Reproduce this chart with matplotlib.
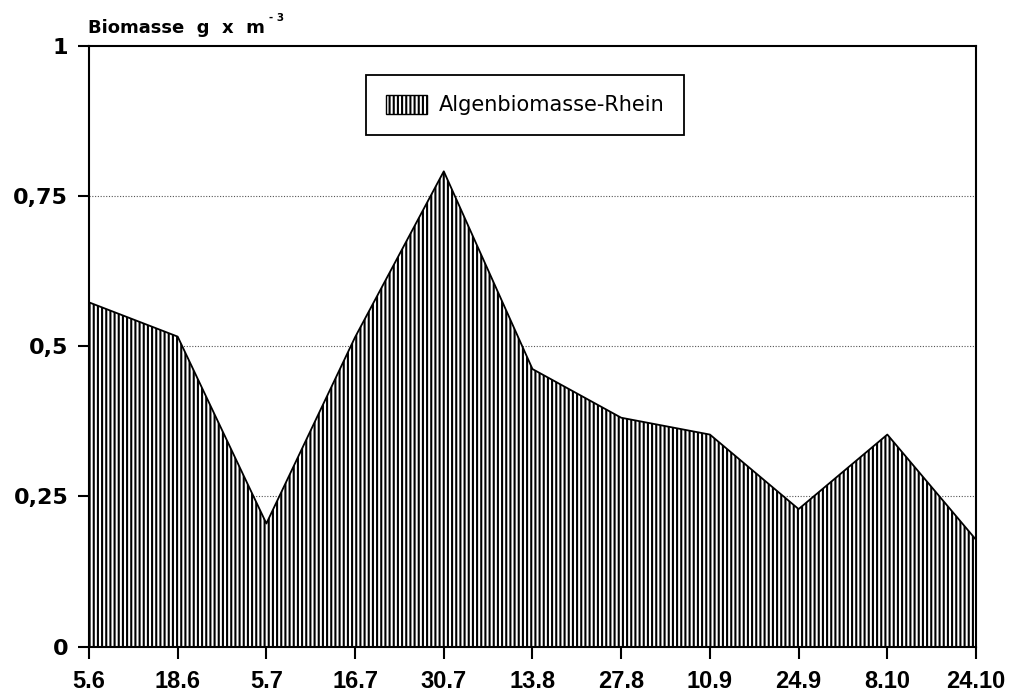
import matplotlib.pyplot as plt
from matplotlib.patches import Patch

# Biomasse Rhein
dates = ["5.6", "18.6", "5.7", "16.7", "30.7", "13.8", "27.8", "10.9", "24.9", "8.10", "24.10"]
biomasse = [0.573, 0.516, 0.205, 0.515, 0.791, 0.462, 0.381, 0.353, 0.229, 0.353, 0.178]

y_ticks = [0, 0.25, 0.5, 0.75, 1]
y_labels = ["0", "0,25", "0,5", "0,75", "1"]

plt.rcParams["hatch.color"] = "black"
plt.rcParams["hatch.linewidth"] = 1.5

fig = plt.figure(figsize=(10.11, 6.95), dpi=100)
ax = fig.add_axes([0.088, 0.0695, 0.8774, 0.8647])

x = list(range(len(dates)))

# gestrichelte Hilfslinien hinter der Fläche
for yv in [0.25, 0.5, 0.75]:
    ax.axhline(yv, color="#555555", linestyle=(0, (1, 1.5)), linewidth=0.8, zorder=1)

ax.fill_between(x, 0, biomasse, facecolor="white", edgecolor="black",
                linewidth=0, hatch="||||", zorder=2)
ax.plot(x, biomasse, color="black", linewidth=1.3, zorder=3)

ax.set_xlim(0, len(dates) - 1)
ax.set_ylim(0, 1)
ax.set_xticks(x)
ax.set_xticklabels(dates, fontfamily="Liberation Sans", fontweight="bold", fontsize=17)
ax.set_yticks(y_ticks)
ax.set_yticklabels(y_labels, fontfamily="DejaVu Sans", fontweight="bold", fontsize=16)

ax.tick_params(axis="x", direction="out", length=8.5, width=1.5, pad=8)
ax.tick_params(axis="y", direction="out", length=8, width=1.5, pad=7)
for sp in ax.spines.values():
    sp.set_linewidth(1.5)
    sp.set_zorder(4)

title = fig.text(0.087, 0.952, "Biomasse  g  x  m", fontfamily="DejaVu Sans",
                 fontweight="bold", fontsize=13, ha="left", va="baseline")
ax.annotate("- 3", xy=(1, 1), xycoords=title, xytext=(3, 1), textcoords="offset points",
            fontfamily="DejaVu Sans", fontweight="bold", fontsize=7.5, ha="left", va="center",
            annotation_clip=False)

handle = Patch(facecolor="white", edgecolor="black", hatch="||||", linewidth=1.0)
leg = ax.legend([handle], ["Algenbiomasse-Rhein"], loc="upper left",
                bbox_to_anchor=(0.312, 0.951), borderaxespad=0, fancybox=False,
                framealpha=1, edgecolor="black", borderpad=0.95, handlelength=2.0,
                handleheight=1.0, handletextpad=0.55,
                prop={"family": "DejaVu Sans", "size": 15})
leg.get_frame().set_linewidth(1.3)
leg.set_zorder(5)

fig.savefig("out.png", dpi=100)
